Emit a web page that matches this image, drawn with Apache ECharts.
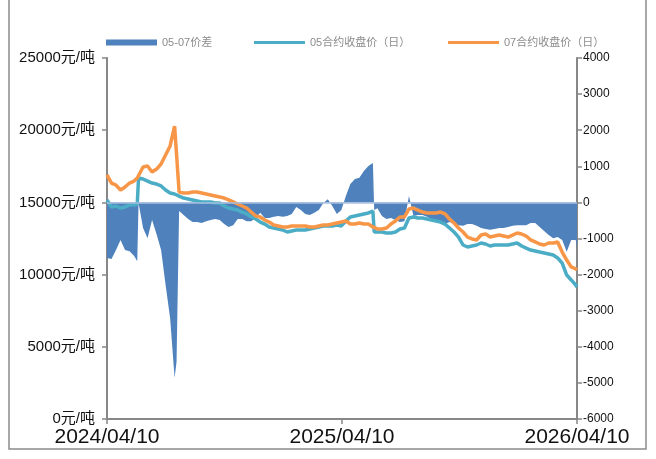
<!DOCTYPE html>
<html>
<head>
<meta charset="utf-8">
<script src="https://cdn.jsdelivr.net/npm/echarts@6/dist/echarts.min.js"></script>
<style>
  html, body { margin: 0; padding: 0; background: #fff; }
  #chart { width: 656px; height: 459px; }
</style>
</head>
<body>
<div id="chart"></div>
<script>
const startDate = '2024-04-10';
const tickLabels = ['2024/04/10', '2025/04/10', '2026/04/10'];

const dates = [
  '2024-04-10','2024-04-17','2024-04-24','2024-05-01','2024-05-08','2024-05-15','2024-05-22','2024-05-27','2024-05-29',
  '2024-06-05','2024-06-12','2024-06-19','2024-06-26','2024-07-03','2024-07-10','2024-07-17','2024-07-24','2024-07-27','2024-07-31',
  '2024-08-07','2024-08-14','2024-08-21','2024-08-28','2024-09-04','2024-09-11','2024-09-18','2024-09-25',
  '2024-10-02','2024-10-09','2024-10-16','2024-10-23','2024-10-30','2024-11-06','2024-11-13','2024-11-20','2024-11-27',
  '2024-12-04','2024-12-11','2024-12-18','2024-12-25',
  '2025-01-01','2025-01-08','2025-01-15','2025-01-22','2025-01-29','2025-02-05','2025-02-12','2025-02-19','2025-02-26',
  '2025-03-05','2025-03-12','2025-03-19','2025-03-26','2025-04-02','2025-04-09','2025-04-16','2025-04-23','2025-04-30',
  '2025-05-07','2025-05-14','2025-05-21','2025-05-28','2025-05-30','2025-06-04','2025-06-11','2025-06-18','2025-06-25',
  '2025-07-02','2025-07-09','2025-07-16','2025-07-23','2025-07-30','2025-08-06','2025-08-13','2025-08-20','2025-08-27',
  '2025-09-03','2025-09-10','2025-09-17','2025-09-24','2025-10-01','2025-10-08','2025-10-15','2025-10-22','2025-10-29',
  '2025-11-05','2025-11-12','2025-11-19','2025-11-26','2025-12-03','2025-12-10','2025-12-17','2025-12-24','2025-12-31',
  '2026-01-07','2026-01-14','2026-01-21','2026-01-28','2026-02-04','2026-02-11','2026-02-18','2026-02-25',
  '2026-03-04','2026-03-11','2026-03-18','2026-03-25','2026-04-01','2026-04-08','2026-04-10'
];

// 05合约收盘价（日）
const close05 = [
  15170,14680,14750,14610,14680,14820,14820,14890,16690,
  16620,16480,16340,16270,16140,15860,15650,15580,15510,15440,
  15300,15240,15170,15100,15030,15030,15030,14960,
  14960,14750,14610,14540,14470,14330,14200,13990,13850,
  13640,13500,13300,13230,
  13160,13090,12950,13020,13090,13090,13090,13160,13230,
  13300,13370,13370,13370,13430,13370,13710,13990,14060,
  14130,14200,14270,14400,12950,12950,12950,12880,12880,
  12950,13160,13230,13920,13990,13920,13920,13850,13780,
  13710,13640,13500,13230,12950,12600,12050,11910,11980,
  12050,12190,12120,11980,12050,12050,12050,12050,12120,
  12190,11980,11840,11700,11630,11560,11500,11430,
  11360,11150,10800,9970,9630,9280,9140
];

// 07合约收盘价（日）
const close07 = [
  16900,16340,16200,15860,16070,16340,16480,16690,16760,
  17450,17520,17100,17310,17660,18280,18910,20290,20220,15720,
  15650,15650,15720,15720,15650,15580,15510,15440,
  15370,15300,15170,15030,14890,14750,14610,14330,14060,
  13990,13780,13640,13440,
  13370,13300,13300,13370,13370,13370,13370,13300,13300,
  13370,13440,13440,13500,13570,13640,13710,13500,13500,
  13570,13500,13500,13300,13230,13160,13160,13230,13500,
  13710,13990,13990,14540,14610,14470,14330,14270,14270,
  14270,14330,14200,13850,13570,13230,12950,12600,12470,
  12400,12740,12810,12600,12670,12740,12670,12600,12740,
  12880,12810,12670,12400,12260,12120,12050,12190,
  12190,12260,11560,11010,10530,10390,10320
];

// 05-07价差
const spread = [
  -1540,-1570,-1320,-1040,-1320,-1350,-1480,-1630,-20,
  -710,-990,-490,-880,-1320,-2280,-3200,-4860,-4420,-240,
  -350,-460,-540,-540,-570,-520,-490,-460,
  -490,-600,-680,-630,-460,-460,-520,-520,-430,
  -290,-430,-430,-400,
  -380,-400,-380,-320,-130,-210,-320,-350,-290,
  -210,-20,90,-100,-320,-210,180,510,650,
  680,870,1010,1090,-210,-160,-380,-460,-430,
  -490,-540,-520,180,-380,-350,-350,-400,-460,
  -520,-540,-600,-540,-600,-630,-650,-600,-600,
  -650,-710,-740,-760,-740,-710,-710,-680,-650,
  -630,-630,-630,-570,-570,-680,-790,-900,
  -990,-960,-1040,-1370,-1040,-1040,-1260
];

const DAY = 86400000;
const t0 = Date.parse(startDate);
const dayOf = (d) => Math.round((Date.parse(d) - t0) / DAY);
const pairs = (vals) => dates.map((d, i) => [dayOf(d), vals[i]]);

const font = "'Liberation Sans', 'Noto Sans CJK SC', sans-serif";
const axisGray = '#878787';
const legendText = { color: '#8c8c8c', fontSize: 11, fontFamily: font };

const chart = echarts.init(document.getElementById('chart'));

const option = {
  backgroundColor: '#fff',
  animation: false,
  textStyle: { fontFamily: font },
  grid: { left: 107, right: 79, top: 58, bottom: 40 },
  legend: [
    { data: ['05-07价差'], left: 101, top: 32, icon: 'rect', itemWidth: 51, itemHeight: 6, textStyle: legendText },
    { data: ['05合约收盘价（日）'], left: 249, top: 32, icon: 'rect', itemWidth: 51, itemHeight: 3, textStyle: legendText },
    { data: ['07合约收盘价（日）'], left: 443, top: 32, icon: 'rect', itemWidth: 51, itemHeight: 3, textStyle: legendText }
  ],
  xAxis: {
    type: 'value',
    min: 0,
    max: dayOf('2026-04-10'),
    interval: 365,
    axisLine: { show: true, lineStyle: { color: axisGray, width: 2 } },
    axisTick: { show: true, length: 5, lineStyle: { color: axisGray, width: 1.5 } },
    splitLine: { show: false },
    axisLabel: {
      showMinLabel: true, showMaxLabel: true,
      color: '#111', fontSize: 21, margin: 8, fontFamily: font,
      formatter: (v) => tickLabels[Math.round(v / 365)] || ''
    }
  },
  yAxis: [
    {
      type: 'value', min: 0, max: 25000, interval: 5000,
      axisLine: { show: true, lineStyle: { color: axisGray, width: 2 } },
      axisTick: { show: true, length: 5, lineStyle: { color: axisGray, width: 1.5 } },
      splitLine: { show: false },
      axisLabel: { color: '#111', fontSize: 15, margin: 12, fontFamily: font,
        formatter: (v) => v + '元/吨' }
    },
    {
      type: 'value', min: -6000, max: 4000, interval: 1000,
      axisLine: { show: true, lineStyle: { color: axisGray, width: 2 } },
      axisTick: { show: true, length: 5, lineStyle: { color: axisGray, width: 1.5 } },
      splitLine: { show: false },
      axisLabel: { color: '#111', fontSize: 12, margin: 6, fontFamily: font,
        formatter: (v) => String(v) }
    }
  ],
  series: [
    {
      name: '05-07价差',
      type: 'line',
      yAxisIndex: 1,
      data: pairs(spread),
      showSymbol: false,
      color: '#4F81BD',
      lineStyle: { width: 0 },
      areaStyle: { color: '#4F81BD', opacity: 1 },
      markLine: {
        silent: true, symbol: 'none', label: { show: false },
        lineStyle: { color: '#a9bfdf', width: 1.5, type: 'solid' },
        data: [{ yAxis: 0 }]
      }
    },
    {
      name: '05合约收盘价（日）',
      type: 'line',
      data: pairs(close05),
      showSymbol: false,
      color: '#4BACC6',
      lineStyle: { width: 3.5, color: '#4BACC6' }
    },
    {
      name: '07合约收盘价（日）',
      type: 'line',
      data: pairs(close07),
      showSymbol: false,
      color: '#F79646',
      lineStyle: { width: 3.5, color: '#F79646' }
    }
  ],
  graphic: [
    {
      type: 'rect', silent: true,
      shape: { x: 9, y: -5, width: 637, height: 454 },
      style: { fill: 'none', stroke: '#8c8c8c', lineWidth: 1.5 }
    }
  ]
};

chart.setOption(option);
</script>
</body>
</html>
